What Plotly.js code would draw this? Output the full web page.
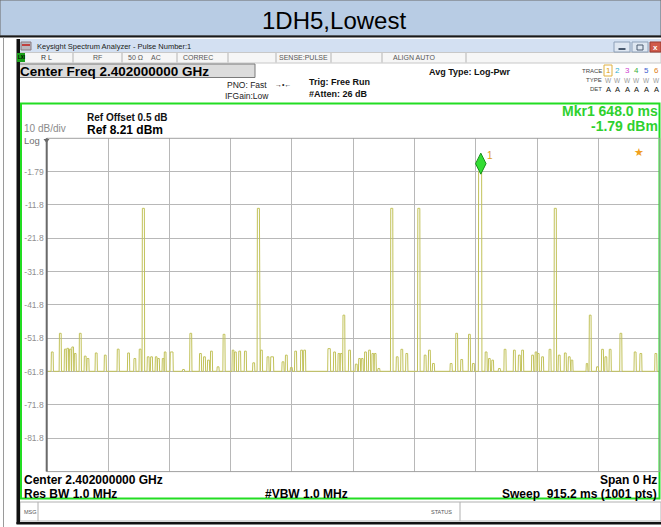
<!DOCTYPE html>
<html><head><meta charset="utf-8">
<script src="https://cdn.plot.ly/plotly-3.0.1.min.js"></script>
<style>html,body{margin:0;padding:0;background:#fff;overflow:hidden}#chart{width:661px;height:527px}</style>
</head><body><div id="chart"></div>
<script>
// ---------------- data ----------------
const chartTitle = "1DH5,Lowest";
const sweepMs = 915.2;
const refLevelDbm = 8.21;
const bottomLevelDbm = -91.79;
const noiseFloorDbm = -61.7;
const yTickVals = [-1.79, -11.8, -21.8, -31.8, -41.8, -51.8, -61.8, -71.8, -81.8];
const yTickText = ["-1.79", "-11.8", "-21.8", "-31.8", "-41.8", "-51.8", "-61.8", "-71.8", "-81.8"];

const pulseCenterMs = [8.3, 20.3, 27.7, 31.3, 35.2, 38.8, 42.6, 50.1, 57.5, 61.6, 73.9, 87.4, 106.7, 122.2, 131.6, 139.5, 144.3,
  151.5, 156.5, 163.4, 166.9, 173.8, 176.8, 186.5, 204.2, 215.1, 229.5, 235.5, 241.5, 245.9, 255.8, 264.7, 278.2, 281.7, 288.1,
  296.6, 309.0, 316.0, 320.5, 330.3, 336.5, 352.7, 357.7, 365.2, 371.6, 380.5, 385.0, 421.6, 429.7, 436.2, 439.7, 443.6, 452.1,
  462.1, 467.0, 471.0, 475.9, 481.9, 486.8, 490.4, 495.8, 515.1, 523.2, 530.1, 537.5, 555.5, 564.9, 571.3, 577.3, 603.7, 612.0,
  619.5, 631.0, 636.9, 647.0, 655.9, 660.8, 665.7, 675.7, 684.2, 698.1, 705.5, 710.4, 725.3, 730.4, 733.8, 740.2, 751.3, 759.2,
  765.1, 774.1, 780.0, 784.1, 806.5, 811.3, 822.2, 829.7, 834.7, 841.1, 857.1, 878.4, 886.9, 909.3];
const pulseLevelDbm = [-55.9, -50.3, -55.05, -54.8, -55.05, -54.4, -56.35, -50.3, -57.15, -57.85, -56.2, -56.85, -55.05, -56.2, -57.85, -55.05, -12.8,
  -57.35, -57.35, -57.35, -57.85, -57.85, -55.9, -55.9, -61.15, -50.3, -56.35, -57.35, -58.35, -55.65, -60.35, -50.6, -55.35, -55.9, -55.65,
  -55.65, -59.15, -12.8, -55.35, -57.35, -57.35, -58.85, -56.85, -60.55, -55.65, -55.35, -55.35, -54.9, -55.9, -56.35, -56.35, -44.85, -55.35,
  -59.55, -57.85, -57.85, -55.9, -55.35, -56.35, -56.35, -60.85, -12.8, -57.35, -55.1, -56.35, -12.8, -56.85, -55.35, -59.35, -59.35, -50.3,
  -58.15, -50.6, -59.35, -1.79, -55.9, -57.85, -58.35, -60.85, -55.1, -55.35, -56.85, -55.35, -56.85, -55.9, -56.35, -57.35, -55.1, -12.8,
  -56.85, -56.2, -57.35, -58.35, -59.35, -44.85, -60.35, -55.1, -57.35, -55.1, -50.3, -55.9, -56.35, -56.35];
const pulseWidthMs = [2.6, 2.6, 2.4, 2.4, 2.4, 2.4, 2.4, 2.6, 2.6, 2.6, 2.6, 2.6, 2.6, 2.6, 2.6, 2.6, 3.0,
  2.6, 2.6, 2.4, 2.4, 2.4, 2.4, 4.0, 2.6, 2.6, 2.6, 2.6, 2.6, 2.6, 2.6, 2.6, 2.4, 2.4, 2.6,
  2.6, 2.6, 3.0, 2.6, 2.6, 4.0, 2.6, 2.6, 2.6, 2.6, 2.6, 2.6, 3.5, 2.6, 2.4, 2.4, 2.6, 2.6,
  2.6, 2.4, 2.4, 2.6, 2.6, 2.4, 2.4, 2.6, 3.0, 2.6, 2.6, 2.6, 3.0, 2.6, 2.6, 2.6, 2.6, 2.6,
  2.6, 2.6, 2.6, 4.5, 2.6, 2.4, 2.4, 2.6, 2.6, 2.6, 2.6, 2.6, 2.6, 2.4, 2.4, 2.6, 2.6, 3.0,
  2.6, 2.6, 2.6, 2.4, 2.0, 2.6, 2.6, 2.6, 2.6, 2.6, 2.6, 2.6, 2.6, 2.6];

const markerTimeMs = 648.0;
const markerLevelDbm = -1.79;

// ---------------- build trace from pulses ----------------
const ramp = 0.45;
const tx = [0], ty = [noiseFloorDbm];
for (let i = 0; i < pulseCenterMs.length; i++) {
  const c = pulseCenterMs[i], w = pulseWidthMs[i], L = pulseLevelDbm[i];
  tx.push(c - w / 2 - ramp, c - w / 2, c + w / 2, c + w / 2 + ramp);
  ty.push(noiseFloorDbm, L, L, noiseFloorDbm);
}
tx.push(sweepMs); ty.push(noiseFloorDbm);

// ---------------- layout helpers (pixel -> paper) ----------------
const W = 661, H = 527;
const FONT = "Liberation Sans, Arial, sans-serif";
const X = v => v / W, Y = v => 1 - v / H;
const shapes = [], ann = [];
function R(x0, y0, x1, y1, fill, lc, lw, layer) {
  shapes.push({type: 'rect', xref: 'paper', yref: 'paper', x0: X(x0), x1: X(x1), y0: Y(y1), y1: Y(y0),
    fillcolor: fill || 'rgba(0,0,0,0)', line: {color: lc || 'rgba(0,0,0,0)', width: lw || 0}, layer: layer || 'above'});
}
function Ln(x0, y0, x1, y1, c, w) {
  shapes.push({type: 'line', xref: 'paper', yref: 'paper', x0: X(x0), x1: X(x1), y0: Y(y0), y1: Y(y1),
    line: {color: c, width: w}, layer: 'above'});
}
function T(x, y, text, size, color, anchor, bold) {
  ann.push({xref: 'paper', yref: 'paper', x: X(x), y: Y(y), text: bold ? '<b>' + text + '</b>' : text, showarrow: false,
    xanchor: anchor || 'left', yanchor: 'middle', borderpad: 0,
    font: {family: FONT, size: size, color: color || '#000'}});
}

// title band
R(0, 0, 661, 36, '#b8cce4', '#6b6b6b', 1, 'below');
Ln(0, 36.5, 661, 36.5, '#1a1a1a', 2);
T(334, 20, chartTitle, 24, '#000', 'center');
// left outer line
Ln(3.5, 37, 3.5, 527, '#9a9a9a', 1);
// window black frame
R(16.5, 39, 20, 524, '#111', null, 0);
R(16.5, 522, 661, 524.5, '#111', null, 0);
// window title bar
R(20, 39, 661, 52.5, '#d3e0f2', null, 0, 'below');
R(21, 42, 31, 50, '#b8b8c0', '#8a7a80', 1);
R(22, 44, 30, 46, '#c04040', null, 0);
T(36, 46.5, 'Keysight Spectrum Analyzer - Pulse Number:1', 7.5, '#202020');
R(614, 42, 630, 52, '#dfe7f2', '#8da0b8', 1);
Ln(618.5, 49, 625.5, 49, '#4a5a70', 2);
R(632, 42, 648, 52, '#dfe7f2', '#8da0b8', 1);
R(637, 45, 643, 50, null, '#4a5a70', 1);
R(650, 42, 661, 52, '#d05a4a', '#9a3a30', 1);
T(655.5, 47, '<b>x</b>', 8, '#fff', 'center');
// status row
R(20, 52.5, 661, 63, '#f6f6f6', '#c8c8c8', 1, 'below');
R(17, 53, 25, 62, '#19a019', null, 0);
T(21, 57.5, '<b>LXI</b>', 4.5, '#000', 'center');
T(40, 57.5, 'R L', 7, '#333');
T(92, 57.5, 'RF', 7, '#555');
T(127, 57.5, '50 Ω', 7, '#555');
T(150, 57.5, 'AC', 7, '#555');
T(182, 57.5, 'CORREC', 7, '#555');
T(278, 57.5, 'SENSE:PULSE', 7, '#555');
T(392, 57.5, 'ALIGN AUTO', 7, '#555');
[73, 122, 177, 228, 276, 331, 382, 466].forEach(x => Ln(x, 53, x, 62.5, '#b4b4b4', 1));
// center freq row
R(18, 64, 255, 77.5, '#dcdcdc', '#7a7a7a', 1, 'below');
T(19, 71, 'Center Freq 2.402000000 GHz', 13.5, '#000', 'left', true);
T(226, 84.5, 'PNO: Fast', 8.5, '#222');
T(224, 96, 'IFGain:Low', 8.5, '#222');
T(283, 84.5, '→•←', 7, '#222', 'center');
T(308, 82, 'Trig: Free Run', 9, '#111', 'left', true);
T(308, 94, '#Atten: 26 dB', 9, '#111', 'left', true);
T(428, 72, 'Avg Type: Log-Pwr', 9, '#111', 'left', true);
T(603, 70.5, 'TRACE', 6, '#444', 'right');
T(603, 80, 'TYPE', 6, '#444', 'right');
T(603, 89, 'DET', 6, '#444', 'right');
R(604, 65, 612, 76, null, '#e0b040', 1);
const trCols = ['#e0a000', '#30b0d0', '#d040d0', '#40b040', '#4060d0', '#e08020'];
trCols.forEach((c, i) => {
  T(608 + i * 9.6, 70.5, String(i + 1), 8, c, 'center');
  T(608 + i * 9.6, 80, 'W', 6.5, '#999', 'center');
  T(608 + i * 9.6, 89.5, 'A', 7.5, '#111', 'center');
});
// green display frame
R(21, 103.5, 659.5, 498.5, null, '#22dd22', 2);
T(86, 117, 'Ref Offset 0.5 dB', 10, '#111', 'left', true);
T(86, 129.5, 'Ref 8.21 dBm', 12, '#000', 'left', true);
T(23, 128.5, '10 dB/div', 10, '#8a8a8a');
T(23, 140.5, 'Log', 9.5, '#707070');
shapes.push({type: 'path', xref: 'paper', yref: 'paper',
  path: `M ${X(43.5)} ${Y(139)} L ${X(49.5)} ${Y(139)} L ${X(46.5)} ${Y(143)} Z`, fillcolor: '#666', line: {width: 0}});
T(659, 111, 'Mkr1 648.0 ms', 14, '#2ed12e', 'right', true);
T(659, 126.5, '-1.79 dBm', 14, '#2ed12e', 'right', true);
T(638.5, 152.5, '★', 11, '#f0a020', 'center');
// bottom text
T(23, 480, 'Center 2.402000000 GHz', 12, '#000', 'left', true);
T(658, 480, 'Span 0 Hz', 12, '#000', 'right', true);
T(23, 494, 'Res BW 1.0 MHz', 12, '#000', 'left', true);
T(264, 494, '#VBW 1.0 MHz', 12, '#000', 'left', true);
T(658, 494, 'Sweep&nbsp;&nbsp;915.2 ms (1001 pts)', 12, '#000', 'right', true);
// MSG bar
R(20, 502, 661, 521, '#fff', '#b0b0b0', 1, 'below');
Ln(38, 502, 38, 521, '#b0b0b0', 1);
Ln(460, 502, 460, 521, '#b0b0b0', 1);
T(23, 512, 'MSG', 5.5, '#555');
T(430, 512, 'STATUS', 5.5, '#555');

// plot borders
shapes.push({type: 'rect', xref: 'x domain', yref: 'y domain', x0: 0, x1: 1, y0: 0, y1: 1,
  line: {color: '#a0a0a0', width: 1}, layer: 'above'});
shapes.push({type: 'line', xref: 'x domain', yref: 'y domain', x0: 0, x1: 0, y0: 0, y1: 1,
  line: {color: '#6a6a6a', width: 2}, layer: 'above'});

// marker label
ann.push({xref: 'x', yref: 'y', x: markerTimeMs, y: markerLevelDbm, text: '1', showarrow: false,
  xshift: 9, yshift: 16, font: {family: FONT, size: 10, color: '#e0a020'}});

const traces = [
  {type: 'scatter', mode: 'lines', x: tx, y: ty, line: {color: '#c2c25a', width: 1}, hoverinfo: 'skip'},
  {type: 'scatter', mode: 'markers', x: [markerTimeMs], y: [markerLevelDbm + 2.4],
    marker: {symbol: 'diamond-tall', size: 15, color: '#33dd33', line: {color: '#17901a', width: 1}}, hoverinfo: 'skip'}
];

const layout = {
  width: W, height: H, margin: {l: 0, r: 0, t: 0, b: 0}, paper_bgcolor: '#fff', plot_bgcolor: '#fff',
  showlegend: false,
  xaxis: {domain: [X(46.7), X(659.8)], range: [0, sweepMs], tick0: 0, dtick: sweepMs / 10, showgrid: true,
    gridcolor: '#b8b8b8', gridwidth: 1, showticklabels: false, zeroline: false, showline: false, ticks: '', fixedrange: true},
  yaxis: {domain: [Y(471.6), Y(138.3)], range: [bottomLevelDbm, refLevelDbm], tickvals: yTickVals, ticktext: yTickText,
    showgrid: true, gridcolor: '#b8b8b8', gridwidth: 1, zeroline: false, showline: false, ticks: '',
    ticklabelstandoff: 2, tickfont: {family: FONT, size: 8.5, color: '#909090'}, fixedrange: true},
  shapes: shapes, annotations: ann
};
Plotly.newPlot('chart', traces, layout, {displayModeBar: false, staticPlot: true});
</script></body></html>
